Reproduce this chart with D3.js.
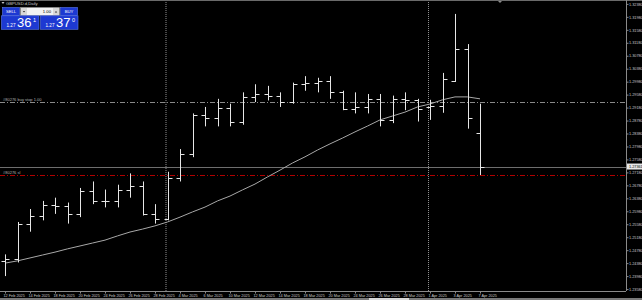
<!DOCTYPE html>
<html>
<head>
<meta charset="utf-8">
<script src="https://cdn.jsdelivr.net/npm/d3@7"></script>
<style>
  html, body { margin: 0; padding: 0; background: #000; }
  svg { display: block; font-family: "Liberation Sans", Arial, sans-serif; }
</style>
</head>
<body>
<div id="chart"></div>
<script>
// Daily bars, GBPUSD.d
const dates = ["12 Feb 2025","13 Feb 2025","14 Feb 2025","17 Feb 2025","18 Feb 2025","19 Feb 2025","20 Feb 2025","21 Feb 2025",
  "24 Feb 2025","25 Feb 2025","26 Feb 2025","27 Feb 2025","28 Feb 2025","3 Mar 2025","4 Mar 2025","5 Mar 2025","6 Mar 2025",
  "7 Mar 2025","10 Mar 2025","11 Mar 2025","12 Mar 2025","13 Mar 2025","14 Mar 2025","17 Mar 2025","18 Mar 2025","19 Mar 2025",
  "20 Mar 2025","21 Mar 2025","24 Mar 2025","25 Mar 2025","26 Mar 2025","27 Mar 2025","28 Mar 2025","31 Mar 2025","1 Apr 2025",
  "2 Apr 2025","3 Apr 2025","4 Apr 2025","7 Apr 2025"];
const open  = [1.2445,1.2452,1.2560,1.2582,1.2617,1.2615,1.2590,1.2660,1.2630,1.2630,1.2665,1.2675,1.2590,1.2575,1.2700,1.2775,
  1.2895,1.2885,1.2918,1.2875,1.2950,1.2960,1.2955,1.2935,1.2990,1.2995,1.3000,1.2965,1.2915,1.2920,1.2945,1.2880,1.2945,1.2940,
  1.2920,1.2923,1.3000,1.3100,1.2840];
const high  = [1.2465,1.2565,1.2605,1.2630,1.2640,1.2625,1.2670,1.2690,1.2665,1.2680,1.2715,1.2690,1.2620,1.2720,1.2790,1.2900,
  1.2920,1.2945,1.2930,1.2965,1.2990,1.2985,1.2965,1.2995,1.3015,1.3010,1.3015,1.2970,1.2965,1.2960,1.2960,1.2955,1.2965,1.2945,
  1.2942,1.3025,1.3207,1.3114,1.2930];
const low   = [1.2398,1.2440,1.2535,1.2570,1.2590,1.2560,1.2580,1.2620,1.2610,1.2610,1.2640,1.2585,1.2560,1.2570,1.2690,1.2765,
  1.2860,1.2860,1.2860,1.2865,1.2935,1.2940,1.2920,1.2930,1.2970,1.2965,1.2945,1.2910,1.2900,1.2900,1.2860,1.2870,1.2910,1.2875,
  1.2880,1.2902,1.2997,1.2853,1.2710];
const close = [1.2452,1.2560,1.2582,1.2617,1.2615,1.2590,1.2660,1.2630,1.2630,1.2665,1.2675,1.2590,1.2575,1.2700,1.2775,1.2895,
  1.2885,1.2918,1.2875,1.2950,1.2960,1.2955,1.2935,1.2990,1.2995,1.3000,1.2965,1.2915,1.2920,1.2945,1.2880,1.2945,1.2940,1.2915,
  1.2923,1.3006,1.3100,1.2885,1.2736];
// moving average values
const ma = [1.2438,1.2445,1.2454,1.2463,1.2472,1.2482,1.2491,1.2500,1.2509,1.2522,1.2534,1.2543,1.2553,1.2565,1.2580,1.2596,
  1.2611,1.2630,1.2645,1.2664,1.2682,1.2704,1.2725,1.2747,1.2766,1.2787,1.2806,1.2824,1.2843,1.2861,1.2880,1.2892,1.2904,1.2920,
  1.2929,1.2942,1.2951,1.2951,1.2945];
const priceTicks = d3.range(23).map(k => 1.32380 - k * 0.004);
const dateTicks = dates.filter((d, i) => i % 2 === 0);
const separators = ["3 Mar 2025", "1 Apr 2025"];
const bid = 1.27361, buyStop = 1.29340, stopLoss = 1.27100;

const W = 642, H = 300, plotR = 626, plotB = 291;
const svg = d3.select("#chart").append("svg").attr("width", W).attr("height", H);
svg.append("rect").attr("width", W).attr("height", H).attr("fill", "#000");

const x = d3.scalePoint().domain(dates).range([5, 480]);
const y = d3.scaleLinear().domain([1.2352, 1.3250]).range([plotB, 0]);

// period separators
svg.selectAll(".sep").data(separators).enter().append("line")
  .attr("x1", d => x(d) - 1.5).attr("x2", d => x(d) - 1.5)
  .attr("y1", 0).attr("y2", plotB)
  .attr("stroke", "#909090").attr("stroke-width", 1).attr("stroke-dasharray", "1,1");

// order lines
svg.append("line").attr("x1", 0).attr("x2", plotR).attr("y1", Math.round(y(buyStop)) + 0.5).attr("y2", Math.round(y(buyStop)) + 0.5)
  .attr("stroke", "#8a8a8a").attr("stroke-dasharray", "5,2,1,2");
svg.append("line").attr("x1", 0).attr("x2", plotR).attr("y1", Math.round(y(stopLoss)) + 0.5).attr("y2", Math.round(y(stopLoss)) + 0.5)
  .attr("stroke", "#b00000").attr("stroke-dasharray", "5,2,1,2");
svg.append("line").attr("x1", 0).attr("x2", plotR).attr("y1", Math.round(y(bid)) + 0.5).attr("y2", Math.round(y(bid)) + 0.5)
  .attr("stroke", "#6e6e6e");

svg.append("text").attr("x", 3).attr("y", y(buyStop) - 1).attr("fill", "#b0b0b0").attr("font-size", 4)
  .text("#80276 buy stop 1.00");
svg.append("text").attr("x", 3).attr("y", y(stopLoss) - 1).attr("fill", "#b0b0b0").attr("font-size", 4)
  .text("#80276 sl");

// moving average
svg.append("path").datum(ma)
  .attr("fill", "none").attr("stroke", "#a8a8a8").attr("stroke-width", 1)
  .attr("d", d3.line().x((d, i) => x(dates[i])).y(d => y(d)));

// OHLC bars
const bars = svg.selectAll(".bar").data(dates).enter().append("g")
  .attr("transform", d => `translate(${Math.round(x(d)) + 0.5},0)`);
bars.append("line").attr("x1", 0).attr("x2", 0)
  .attr("y1", (d, i) => y(high[i])).attr("y2", (d, i) => y(low[i]))
  .attr("stroke", "#e6e6e6");
bars.append("line").attr("x1", -4).attr("x2", 0)
  .attr("y1", (d, i) => Math.round(y(open[i])) + 0.5).attr("y2", (d, i) => Math.round(y(open[i])) + 0.5)
  .attr("stroke", "#e6e6e6");
bars.append("line").attr("x1", 0).attr("x2", 4)
  .attr("y1", (d, i) => Math.round(y(close[i])) + 0.5).attr("y2", (d, i) => Math.round(y(close[i])) + 0.5)
  .attr("stroke", "#e6e6e6");

// top border + shift marker
svg.append("line").attr("x1", 0).attr("x2", W).attr("y1", 0.5).attr("y2", 0.5).attr("stroke", "#6a6a6a");
svg.append("path").attr("d", "M498,1 L502,1 L500,3 Z").attr("fill", "#8a8a8a");

// right price axis
const yAxis = svg.append("g").attr("transform", `translate(${plotR + 0.5},0)`)
  .call(d3.axisRight(y).tickValues(priceTicks).tickSize(2).tickSizeOuter(0).tickFormat(d3.format(".5f")));
yAxis.select(".domain").attr("stroke", "#8a8a8a").attr("d", `M0,0V${plotB}`);
yAxis.selectAll(".tick line").attr("stroke", "#8a8a8a");
yAxis.selectAll(".tick text").attr("fill", "#c8c8c8").attr("font-size", 3.8).attr("x", 2.5)
  .attr("font-family", "Liberation Sans, Arial, sans-serif");

// bottom time axis
const xAxis = svg.append("g").attr("transform", `translate(0,${plotB + 0.5})`)
  .call(d3.axisBottom(x).tickValues(dateTicks).tickSize(2).tickSizeOuter(0));
xAxis.select(".domain").attr("stroke", "#8a8a8a").attr("d", `M0,0H${plotR}`);
xAxis.selectAll(".tick line").attr("stroke", "#8a8a8a");
xAxis.selectAll(".tick text").attr("fill", "#c8c8c8").attr("font-size", 3.8)
  .attr("text-anchor", "start").attr("x", -2).attr("y", 3).attr("dy", "0.71em")
  .attr("font-family", "Liberation Sans, Arial, sans-serif");

// bid price label
svg.append("rect").attr("x", plotR + 1).attr("y", y(bid) - 3).attr("width", W - plotR - 1).attr("height", 6).attr("fill", "#e8e8e8");
svg.append("text").attr("x", plotR + 3).attr("y", y(bid) + 1.4).attr("fill", "#000").attr("font-size", 3.8)
  .text(d3.format(".5f")(bid));

// bottom tab strip
svg.append("rect").attr("x", 0).attr("y", 298).attr("width", W).attr("height", 2).attr("fill", "#7a7a7a");
svg.append("rect").attr("x", 369).attr("y", 298).attr("width", 40).attr("height", 2).attr("fill", "#d8d8d8");

// header
svg.append("path").attr("d", "M1.5,2 L4.5,2 L3,4 Z").attr("fill", "#c0c0c0");
svg.append("text").attr("x", 6).attr("y", 4.6).attr("fill", "#c8c8c8").attr("font-size", 4.2).text("GBPUSD.d,Daily");

// one-click trading panel
const panel = svg.append("g");
const blue = "#1d39d2";
panel.append("rect").attr("x", 2.5).attr("y", 7.5).attr("width", 17).attr("height", 8).attr("fill", blue).attr("stroke", "#5a78f0").attr("stroke-width", 0.6);
panel.append("text").attr("x", 11).attr("y", 13).attr("text-anchor", "middle").attr("fill", "#fff").attr("font-size", 4.2).text("SELL");
panel.append("rect").attr("x", 20.5).attr("y", 7.5).attr("width", 39).attr("height", 8).attr("fill", "#f2f2f2").attr("stroke", "#9a9a9a").attr("stroke-width", 0.5);
panel.append("rect").attr("x", 21).attr("y", 8).attr("width", 6).attr("height", 7).attr("fill", "#d8d8d8");
panel.append("rect").attr("x", 53).attr("y", 8).attr("width", 6).attr("height", 7).attr("fill", "#d8d8d8");
panel.append("path").attr("d", "M22.8,11 L25.2,11 L24,12.6 Z").attr("fill", "#333");
panel.append("path").attr("d", "M54.8,12.6 L57.2,12.6 L56,11 Z").attr("fill", "#333");
panel.append("text").attr("x", 51).attr("y", 13).attr("text-anchor", "end").attr("fill", "#000").attr("font-size", 4.2).text("1.00");
panel.append("rect").attr("x", 60.5).attr("y", 7.5).attr("width", 17).attr("height", 8).attr("fill", blue).attr("stroke", "#5a78f0").attr("stroke-width", 0.6);
panel.append("text").attr("x", 69).attr("y", 13).attr("text-anchor", "middle").attr("fill", "#fff").attr("font-size", 4.2).text("BUY");

const quotes = [
  { x: 1.5, big: "36", sup: "1" },
  { x: 40.5, big: "37", sup: "0" }
];
quotes.forEach(q => {
  panel.append("rect").attr("x", q.x).attr("y", 15.8).attr("width", 37.5).attr("height", 13.5).attr("fill", blue).attr("stroke", "#5a78f0").attr("stroke-width", 0.6);
  panel.append("text").attr("x", q.x + 5).attr("y", 27).attr("fill", "#fff").attr("font-size", 4.6).text("1.27");
  panel.append("text").attr("x", q.x + 15.5).attr("y", 27.3).attr("fill", "#fff").attr("font-size", 13).text(q.big);
  panel.append("text").attr("x", q.x + 31.5).attr("y", 21.5).attr("fill", "#fff").attr("font-size", 5.5).text(q.sup);
});
</script>
</body>
</html>
